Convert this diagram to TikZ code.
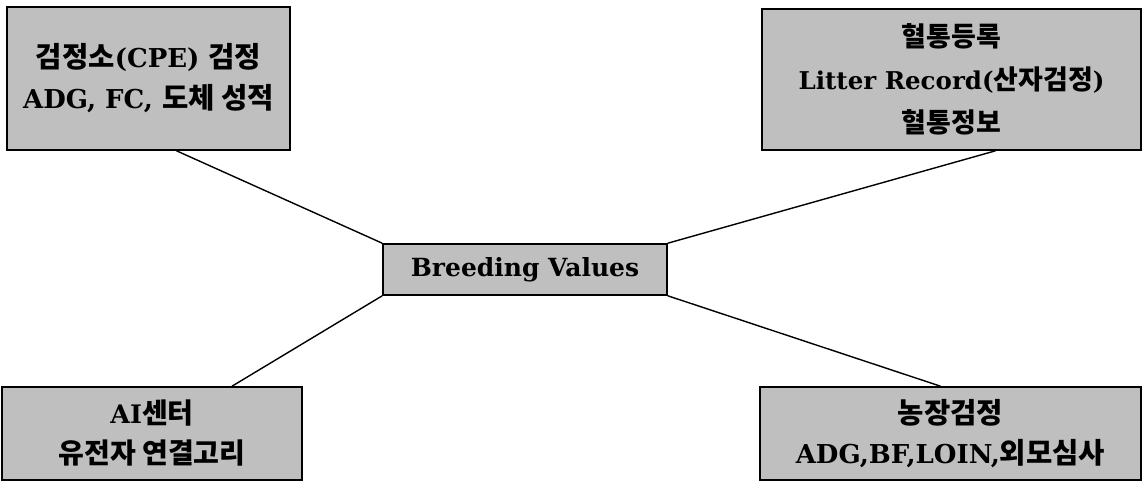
\documentclass[tikz,border=0pt]{standalone}
\usepackage{fontspec}
\setmainfont{DejaVu Serif}
\newfontfamily\kr{Noto Sans CJK KR}[Scale=1.1]
\usetikzlibrary{positioning}
\tikzset{box/.style={draw, line width=1.6pt, fill=black!25, align=center, inner sep=0pt},
         link/.style={line width=1.4pt}}
\newcommand{\ko}[1]{{\kr\bfseries #1}}

\begin{document}
\begin{tikzpicture}[x=1pt, y=-1pt]
\useasboundingbox (0, 0) rectangle (1145, 481);
        % Draw the boxes
        \node[box, minimum width=283pt, minimum height=143pt, font=\bfseries\fontsize{26}{41}\selectfont] at (148.5, 78.5)   (cpe)   {\ko{검정소}(CPE) \ko{검정}\\ADG, FC, \ko{도체 성적}};
        \node[box, minimum width=379pt, minimum height=141pt, font=\bfseries\fontsize{24.5}{43}\selectfont] at (951.5, 79.5)   (litter) {\ko{혈통등록}\\Litter Record(\ko{산자검정})\\\ko{혈통정보}};
        \node[box, minimum width=284pt, minimum height=51pt, font=\bfseries\fontsize{25}{30}\selectfont]  at (525, 269.5)    (bv)     {Breeding Values};
        \node[box, minimum width=300pt, minimum height=93pt, font=\bfseries\fontsize{25.5}{40}\selectfont]  at (152, 433.5)    (ai)     {AI\ko{센터}\\\ko{유전자 연결고리}};
        \node[box, minimum width=381pt, minimum height=93pt, font=\bfseries\fontsize{26}{40}\selectfont]  at (950.5, 433.5)  (farm)   {\ko{농장검정}\\ADG,BF,LOIN,\ko{외모심사}};

        % Connect the boxes
\draw[link]  ([xshift=28pt]cpe.south) edge (bv.north west);
\draw[link]  ([xshift=44pt]litter.south) edge (bv.north east);
\draw[link]  (bv.south west) edge ([xshift=80pt]ai.north);
\draw[link]  (bv.south east) edge ([xshift=-10pt]farm.north);
\end{tikzpicture}
\end{document}
